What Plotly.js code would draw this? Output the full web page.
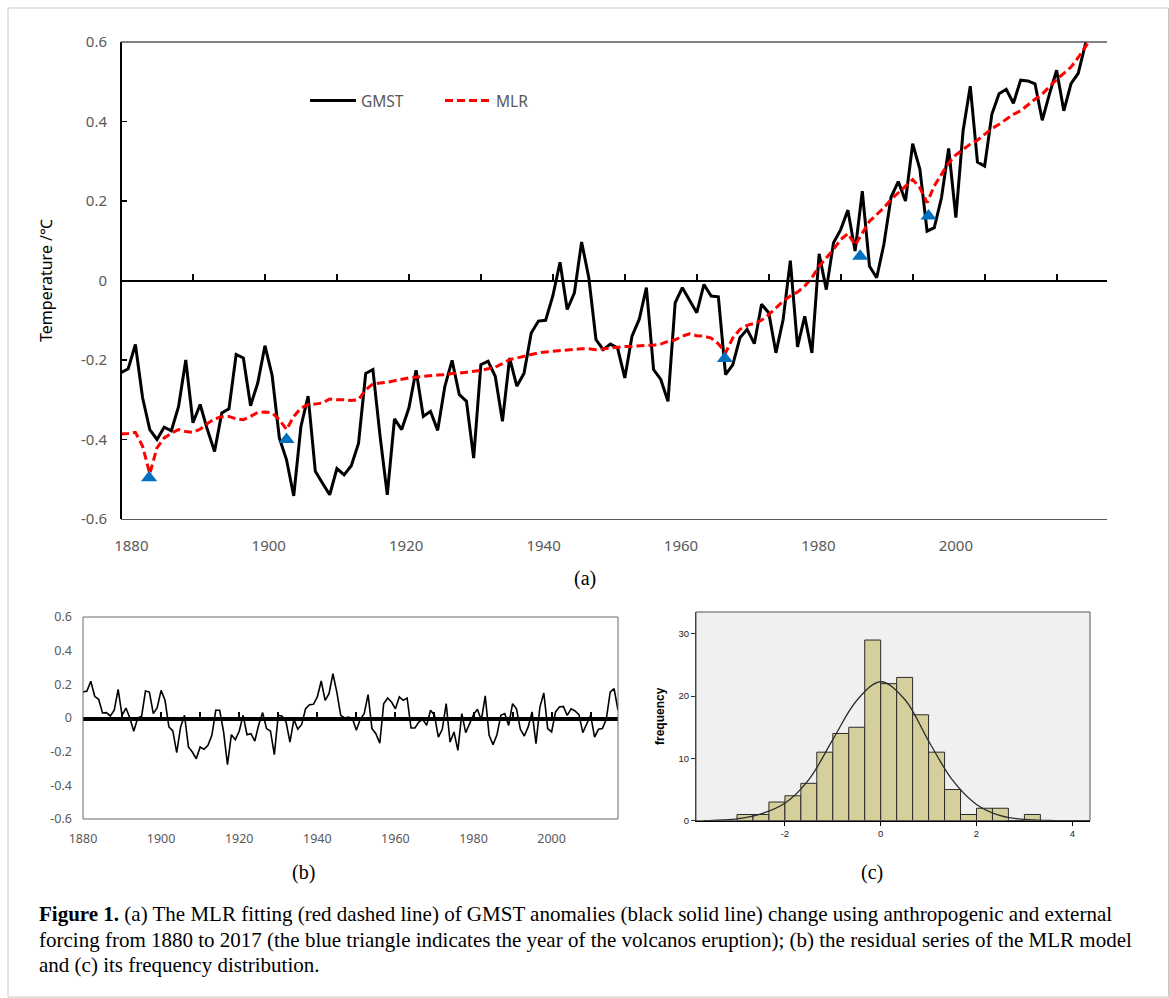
<!DOCTYPE html>
<html>
<head>
<meta charset="utf-8">
<script src="https://cdn.plot.ly/plotly-3.0.1.min.js"></script>
<style>html,body{margin:0;padding:0;background:#fff;}#chart{width:1169px;height:998px;}</style>
</head>
<body>
<div id="chart"></div>
<script>
// ---------------- data ----------------
const years = [1880,1881,1882,1883,1884,1885,1886,1887,1888,1889,1890,1891,1892,1893,1894,1895,1896,1897,1898,1899,
1900,1901,1902,1903,1904,1905,1906,1907,1908,1909,1910,1911,1912,1913,1914,1915,1916,1917,1918,1919,
1920,1921,1922,1923,1924,1925,1926,1927,1928,1929,1930,1931,1932,1933,1934,1935,1936,1937,1938,1939,
1940,1941,1942,1943,1944,1945,1946,1947,1948,1949,1950,1951,1952,1953,1954,1955,1956,1957,1958,1959,
1960,1961,1962,1963,1964,1965,1966,1967,1968,1969,1970,1971,1972,1973,1974,1975,1976,1977,1978,1979,
1980,1981,1982,1983,1984,1985,1986,1987,1988,1989,1990,1991,1992,1993,1994,1995,1996,1997,1998,1999,
2000,2001,2002,2003,2004,2005,2006,2007,2008,2009,2010,2011,2012,2013,2014,2015,2016,2017];

const gmst = [-0.232,-0.222,-0.161,-0.295,-0.375,-0.400,-0.369,-0.378,-0.317,-0.200,-0.358,-0.312,-0.375,-0.430,-0.333,-0.323,-0.186,-0.195,-0.315,-0.258,
-0.164,-0.239,-0.396,-0.451,-0.542,-0.367,-0.291,-0.480,-0.510,-0.539,-0.473,-0.489,-0.466,-0.410,-0.234,-0.224,-0.392,-0.539,-0.348,-0.375,
-0.321,-0.226,-0.342,-0.329,-0.377,-0.266,-0.201,-0.287,-0.304,-0.447,-0.212,-0.203,-0.241,-0.354,-0.195,-0.266,-0.233,-0.132,-0.102,-0.100,
-0.039,0.046,-0.073,-0.031,0.097,0.007,-0.149,-0.174,-0.160,-0.170,-0.245,-0.140,-0.098,-0.018,-0.224,-0.249,-0.304,-0.056,-0.018,-0.048,
-0.081,-0.010,-0.039,-0.041,-0.237,-0.212,-0.144,-0.123,-0.159,-0.060,-0.081,-0.182,-0.098,0.050,-0.167,-0.090,-0.182,0.067,-0.023,0.095,
0.128,0.177,0.074,0.225,0.036,0.007,0.091,0.210,0.249,0.200,0.344,0.280,0.124,0.133,0.208,0.332,0.158,0.376,0.489,0.298,
0.288,0.418,0.470,0.481,0.446,0.504,0.502,0.495,0.403,0.469,0.529,0.427,0.495,0.521,0.595,0.770,0.800,0.710];

const mlr = [-0.386,-0.385,-0.382,-0.417,-0.486,-0.421,-0.396,-0.384,-0.375,-0.380,-0.382,-0.374,-0.360,-0.348,-0.343,-0.342,-0.348,-0.350,-0.342,-0.332,
-0.331,-0.333,-0.350,-0.375,-0.342,-0.321,-0.312,-0.311,-0.308,-0.298,-0.300,-0.300,-0.302,-0.300,-0.275,-0.260,-0.258,-0.256,-0.252,-0.248,
-0.245,-0.243,-0.241,-0.239,-0.238,-0.237,-0.234,-0.233,-0.231,-0.228,-0.226,-0.222,-0.218,-0.209,-0.199,-0.195,-0.191,-0.187,-0.182,-0.180,
-0.178,-0.176,-0.174,-0.173,-0.172,-0.172,-0.174,-0.172,-0.170,-0.169,-0.166,-0.166,-0.164,-0.163,-0.163,-0.160,-0.153,-0.149,-0.140,-0.134,
-0.139,-0.140,-0.145,-0.159,-0.182,-0.145,-0.123,-0.113,-0.108,-0.100,-0.086,-0.069,-0.052,-0.039,-0.029,-0.014,0.007,0.036,0.057,0.078,
0.103,0.118,0.089,0.120,0.149,0.166,0.183,0.204,0.221,0.238,0.254,0.233,0.196,0.238,0.267,0.296,0.316,0.330,0.343,0.353,
0.368,0.382,0.393,0.406,0.418,0.427,0.442,0.456,0.469,0.487,0.506,0.521,0.537,0.561,0.590,0.615,0.640,0.660];

const volcanoYears = [1883.9, 1903.0, 1963.9, 1982.7, 1992.2];
const volcanoValues = [-0.496, -0.400, -0.196, 0.061, 0.162];

const residual = [0.154,0.160,0.218,0.129,0.111,0.030,0.032,0.012,0.046,0.170,
0.016,0.059,0.000,-0.079,0.000,0.010,0.160,0.154,0.026,0.061,
0.164,0.105,-0.053,-0.077,-0.206,-0.053,0.016,-0.172,-0.202,-0.242,
-0.172,-0.186,-0.162,-0.103,0.046,0.046,-0.083,-0.277,-0.099,-0.129,
-0.079,0.016,-0.099,-0.093,-0.137,-0.040,0.032,-0.063,-0.077,-0.218,
0.016,0.010,-0.024,-0.143,-0.008,-0.067,-0.038,0.055,0.079,0.081,
0.125,0.220,0.105,0.145,0.263,0.154,0.016,0.000,0.006,-0.004,
-0.073,-0.008,0.026,0.139,-0.063,-0.093,-0.149,0.085,0.119,0.095,
0.055,0.125,0.105,0.119,-0.059,-0.059,-0.024,-0.008,-0.044,0.046,
0.016,-0.113,-0.067,0.085,-0.143,-0.083,-0.192,0.026,-0.087,-0.034,
0.020,0.052,-0.014,0.131,-0.103,-0.158,-0.099,0.016,0.026,-0.044,
0.085,0.055,-0.067,-0.107,-0.053,0.036,-0.152,0.065,0.149,-0.063,
-0.083,0.036,0.065,0.069,0.016,0.055,0.042,0.020,-0.087,-0.034,
0.016,-0.113,-0.067,-0.063,-0.008,0.154,0.174,0.046];

const binCenters = [-2.833,-2.5,-2.167,-1.833,-1.5,-1.167,-0.833,-0.5,-0.167,0.167,0.5,0.833,1.167,1.5,1.833,2.167,2.5,2.833,3.167];
const binCounts  = [1,1,3,4,6,11,14,15,29,22,23,17,11,5,1,2,2,0,1];

const curveX = [-3.7,-3.5,-3.0,-2.5,-2.0,-1.5,-1.0,-0.5,0.0,0.5,1.0,1.5,2.0,2.5,3.0,3.5,4.0,4.4];
const curveY = [0.02,0.06,0.3,1.1,2.8,6.6,13.0,19.3,22.3,19.5,12.8,6.5,2.6,0.8,0.2,0.05,0.01,0.0];

const yTicksA = [-0.6,-0.4,-0.2,0,0.2,0.4,0.6];
const yTextA  = ['-0.6','-0.4','-0.2','0','0.2','0.4','0.6'];
const xTicksA = [1890,1900,1910,1920,1930,1940,1950,1960,1970,1980,1990,2000,2010];
const xLabelsA = [1880,1900,1920,1940,1960,1980,2000];
const xTicksB = [1880,1890,1900,1910,1920,1930,1940,1950,1960,1970,1980,1990,2000,2010];
const xLabelsB = [1880,1900,1920,1940,1960,1980,2000];
const yTicksC = [0,10,20,30];
const xTicksC = [-2,0,2,4];

// ---------------- layout helpers ----------------
const W = 1169, H = 998;
const fx = p => p / W;
const fy = p => 1 - p / H;
const gray = '#595959';
const sans = 'Noto Sans, Open Sans, sans-serif';
const serif = 'Liberation Serif, Times New Roman, serif';
const arial = 'Liberation Sans, Arial, sans-serif';

const traces = [
  {type:'scatter', mode:'lines', name:'GMST', x:years, y:gmst, xaxis:'x', yaxis:'y',
   line:{color:'#000000', width:3}, hoverinfo:'skip'},
  {type:'scatter', mode:'lines', name:'MLR', x:years, y:mlr, xaxis:'x', yaxis:'y',
   line:{color:'#FF0000', width:3, dash:'8px,4px'}, hoverinfo:'skip'},
  {type:'scatter', mode:'markers', name:'volcano', x:volcanoYears, y:volcanoValues, xaxis:'x', yaxis:'y',
   marker:{symbol:'triangle-up', size:14, color:'#0070C0'}, showlegend:false, hoverinfo:'skip'},
  {type:'scatter', mode:'none', x:xLabelsA, y:xLabelsA.map(()=>null), xaxis:'x2', yaxis:'y', showlegend:false, hoverinfo:'skip'},
  {type:'scatter', mode:'lines', name:'residual', x:years, y:residual, xaxis:'x3', yaxis:'y3',
   line:{color:'#000000', width:1.6}, showlegend:false, hoverinfo:'skip'},
  {type:'scatter', mode:'none', x:xLabelsB, y:xLabelsB.map(()=>null), xaxis:'x4', yaxis:'y3', showlegend:false, hoverinfo:'skip'},
  {type:'bar', x:binCenters, y:binCounts, width:0.3333, xaxis:'x5', yaxis:'y5',
   marker:{color:'#D5D09B', line:{color:'#2a2a2a', width:1}}, showlegend:false, hoverinfo:'skip'},
  {type:'scatter', mode:'lines', x:curveX, y:curveY, xaxis:'x5', yaxis:'y5',
   line:{color:'#2b2b2b', width:1.3, shape:'spline', smoothing:1}, showlegend:false, hoverinfo:'skip'}
];

const layout = {
  width: W, height: H,
  margin: {l:0, r:0, t:0, b:0, pad:0},
  paper_bgcolor: '#ffffff',
  plot_bgcolor: 'rgba(0,0,0,0)',
  showlegend: true,
  legend: {orientation:'h', x:fx(305), y:fy(101), xanchor:'left', yanchor:'middle',
           font:{family:sans, size:15.5, color:gray}, bgcolor:'rgba(0,0,0,0)', itemwidth:46,
           entrywidth:74, entrywidthmode:'pixels', traceorder:'normal'},
  // ---- panel (a)
  xaxis: {domain:[fx(121), fx(1107)], range:[1880, 2017], anchor:'free', position:fy(281),
          showline:true, linecolor:'#000', linewidth:2, ticks:'inside', ticklen:6, tickwidth:2, tickcolor:'#000',
          tickvals:xTicksA, showticklabels:false, showgrid:false, zeroline:false, fixedrange:true},
  xaxis2: {domain:[fx(121), fx(1107)], range:[1878.5, 2022.0], overlaying:'x', anchor:'free', position:fy(519),
          showline:true, linecolor:gray, linewidth:1.3, ticks:'', tickvals:xLabelsA, ticktext:xLabelsA.map(String),
          tickfont:{family:sans, size:15, color:gray}, ticklabelstandoff:13, showgrid:false, zeroline:false},
  yaxis: {domain:[fy(519), fy(42)], range:[-0.6, 0.6], anchor:'free', position:fx(121),
          showline:true, linecolor:'#000', linewidth:2, ticks:'inside', ticklen:5, tickwidth:1.5, tickcolor:'#000',
          tickvals:yTicksA, ticktext:yTextA, tickfont:{family:sans, size:15, color:gray}, ticklabelstandoff:10,
          showgrid:false, zeroline:false,
          title:{text:'Temperature /℃', font:{family:sans, size:16, color:'#000'}, standoff:23}},
  // ---- panel (b)
  xaxis3: {domain:[fx(83), fx(618)], range:[1880, 2017], anchor:'free', position:fy(718),
          showline:true, linecolor:'#000', linewidth:3.5, ticks:'inside', ticklen:5, tickwidth:2, tickcolor:'#000',
          tickvals:xTicksB, showticklabels:false, showgrid:false, zeroline:false},
  xaxis4: {domain:[fx(83), fx(618)], range:[1880, 2017], overlaying:'x3', anchor:'free', position:fy(819),
          showline:false, ticks:'', tickvals:xLabelsB, ticktext:xLabelsB.map(String),
          tickfont:{family:sans, size:12.5, color:gray}, ticklabelstandoff:10, showgrid:false, zeroline:false},
  yaxis3: {domain:[fy(819), fy(617)], range:[-0.6, 0.6], anchor:'free', position:fx(83),
          showline:false, ticks:'', tickvals:yTicksA, ticktext:yTextA,
          tickfont:{family:sans, size:12.5, color:gray}, ticklabelstandoff:11, showgrid:false, zeroline:false},
  // ---- panel (c)
  xaxis5: {domain:[fx(696), fx(1090)], range:[-3.856, 4.37], anchor:'y5',
          showline:true, linecolor:'#000', linewidth:1, ticks:'outside', ticklen:4, tickwidth:1, tickcolor:'#000',
          tickvals:xTicksC, ticktext:['-2','0','2','4'], tickfont:{family:arial, size:9.5, color:'#222'},
          showgrid:false, zeroline:false},
  yaxis5: {domain:[fy(820.7), fy(612)], range:[0, 33.5], anchor:'x5',
          showline:true, linecolor:'#444', linewidth:1, ticks:'outside', ticklen:4, tickwidth:1, tickcolor:'#333',
          tickvals:yTicksC, tickfont:{family:arial, size:9.5, color:'#222'},
          showgrid:false, zeroline:false,
          title:{text:'<b>frequency</b>', font:{family:arial, size:12, color:'#000'}, standoff:11}},
  shapes: [
    {type:'rect', xref:'paper', yref:'paper', x0:fx(8), x1:fx(1168.5), y0:fy(997), y1:fy(8),
     line:{color:'#c8c8c8', width:1}, fillcolor:'rgba(0,0,0,0)', layer:'below'},
    {type:'line', xref:'paper', yref:'paper', x0:fx(121), x1:fx(1107), y0:fy(42), y1:fy(42),
     line:{color:gray, width:1.3}},
    {type:'rect', xref:'paper', yref:'paper', x0:fx(83), x1:fx(618), y0:fy(819), y1:fy(617),
     line:{color:'#6b6b6b', width:1}, fillcolor:'rgba(0,0,0,0)'},
    {type:'rect', xref:'paper', yref:'paper', x0:fx(696), x1:fx(1090), y0:fy(820.7), y1:fy(612),
     line:{color:'#555', width:1}, fillcolor:'#F0F0F0', layer:'below'}
  ],
  annotations: [
    {text:'(a)', xref:'paper', yref:'paper', x:fx(585), y:fy(578), xanchor:'center', yanchor:'middle', showarrow:false,
     font:{family:serif, size:20, color:'#000'}},
    {text:'(b)', xref:'paper', yref:'paper', x:fx(303), y:fy(872), xanchor:'center', yanchor:'middle', showarrow:false,
     font:{family:serif, size:20, color:'#000'}},
    {text:'(c)', xref:'paper', yref:'paper', x:fx(872), y:fy(872), xanchor:'center', yanchor:'middle', showarrow:false,
     font:{family:serif, size:20, color:'#000'}},
    {text:'<b>Figure 1.</b> (a) The MLR fitting (red dashed line) of GMST anomalies (black solid line) change using anthropogenic and external',
     xref:'paper', yref:'paper', x:fx(37), y:fy(914), xanchor:'left', yanchor:'middle', showarrow:false,
     font:{family:serif, size:21, color:'#000'}},
    {text:'forcing from 1880 to 2017 (the blue triangle indicates the year of the volcanos eruption); (b) the residual series of the MLR model',
     xref:'paper', yref:'paper', x:fx(37), y:fy(940), xanchor:'left', yanchor:'middle', showarrow:false,
     font:{family:serif, size:21, color:'#000'}},
    {text:'and (c) its frequency distribution.',
     xref:'paper', yref:'paper', x:fx(37), y:fy(965), xanchor:'left', yanchor:'middle', showarrow:false,
     font:{family:serif, size:21, color:'#000'}}
  ]
};

Plotly.newPlot('chart', traces, layout, {displayModeBar:false, staticPlot:true});
</script>
</body>
</html>
